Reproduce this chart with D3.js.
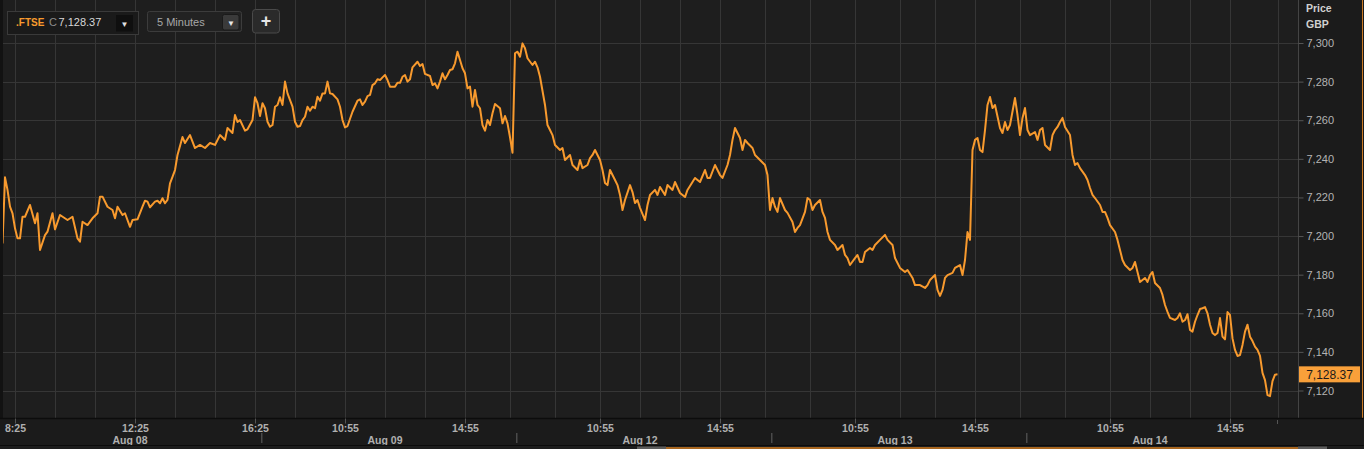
<!DOCTYPE html>
<html>
<head>
<meta charset="utf-8">
<script src="https://cdn.jsdelivr.net/npm/d3@7"></script>
<style>
html,body{margin:0;padding:0;background:#1b1b1b;overflow:hidden;}
svg{display:block;font-family:"Liberation Sans",Arial,sans-serif;}
</style>
</head>
<body>
<svg id="chart" width="1364" height="449"></svg>
<script>
// ---------------- DATA ----------------
const symbol = ".FTSE";
const lastPrice = 7128.37;
const interval = "5 Minutes";
const currency = "GBP";
const barsPerDay = 102; // 08:00 .. 16:25, 5-minute bars
const days = ["Aug 08", "Aug 09", "Aug 12", "Aug 13", "Aug 14"];

// session bar index (5-minute bars counted across trading days)
const barIndex = [
0,1,2,3,4,5,6,7,8,9,11,13,14,15,17,18,20,21,23,26,28,30,31,32,34,36,38,39,40,42,44,45,46,48,49,51,52,54,56,57,58,59,61,62,63,64,65,66,67,68,69,70,72,73,75,77,79,81,83,85,87,89,90,92,93,94,95,97,98,100,101,
102,103,104,105,106,107,108,109,110,111,112,113,114,116,117,118,119,120,121,122,123,124,125,126,127,128,129,130,131,132,134,135,136,137,138,140,142,143,144,145,146,147,148,149,150,151,152,153,154,155,157,158,159,160,161,162,163,164,166,167,168,169,171,172,173,174,175,176,177,178,179,180,181,182,183,184,185,186,187,188,189,190,191,192,193,194,195,196,197,199,200,201,202,203,
204,205,206,207,208,209,210,212,213,214,215,217,218,219,220,221,223,224,225,227,228,230,231,232,234,235,236,237,239,240,241,242,243,245,246,247,248,249,251,252,253,254,255,257,258,259,261,262,263,265,266,268,269,271,273,274,276,277,279,281,282,283,285,287,288,290,291,292,293,295,296,297,298,300,301,303,305,
306,307,308,309,310,311,313,314,316,317,318,319,321,322,323,324,325,327,328,329,330,331,333,334,336,337,338,339,341,342,343,344,345,347,348,349,351,353,354,356,357,359,361,362,364,365,367,369,370,371,373,374,375,376,377,378,380,381,383,384,385,386,387,388,389,390,391,392,393,394,395,396,397,399,400,401,402,403,405,406,407,
408,409,410,411,413,414,415,416,417,419,420,421,422,423,424,425,427,428,429,430,431,433,434,435,436,437,439,440,441,442,443,445,446,447,448,449,451,452,453,454,455,457,458,459,460,461,463,464,465,466,467,469,470,471,472,473,474,475,476,477,478,479,480,481,482,483,484,485,486,487,488,489,490,491,492,493,494,495,496,497,498,499,500,501,502,503,504,505,506,507,508,509,510
];
const price = [
7196.2,7230.4,7223.9,7215.2,7211.8,7204,7198.8,7198.8,7210,7210,7216.1,7206.6,7211.8,7192.8,7200.5,7202.3,7211.8,7203.5,7210.9,7208.3,7210,7198.8,7197.1,7207.4,7205.7,7209.2,7211.8,7220.4,7220.4,7215.2,7213.5,7209.2,7215.2,7210.9,7211.8,7204.8,7208.3,7208.7,7215.2,7218.3,7217.8,7214.9,7217.8,7218.3,7217,7219.6,7217,7218.7,7227.3,7230.7,7234.2,7242,7251.3,7248.2,7252.3,7245.6,7247.2,7245.6,7248.2,7247.2,7252.3,7249.8,7256,7253.4,7262.7,7259.1,7260.1,7254.6,7255.3,7260.1,7271.9,
7268.8,7262.2,7268.8,7266.2,7259.2,7256.6,7257.5,7267,7267.9,7271.9,7267.9,7280,7273.9,7267,7259.2,7256.6,7257,7260.1,7261.8,7267,7264.9,7267,7266.2,7272.2,7270.1,7273.9,7273.9,7280,7273.9,7273.6,7270.8,7267,7260.1,7256.3,7257,7264.4,7270.1,7270.8,7267.9,7269.6,7272.5,7273.1,7278.2,7279.1,7281.2,7280.8,7282.2,7283.4,7280.8,7277.4,7277.4,7279.4,7279.4,7282.5,7283.4,7280,7281.2,7287.4,7290.3,7288.1,7289.1,7284,7282.9,7278.2,7279.1,7276.5,7280,7284.3,7281.2,7283.4,7286,7286.4,7289.5,7295.5,7291.2,7286.9,7284.3,7276.5,7277.4,7267,7275.7,7267.9,7266.2,7257.5,7254.6,7260.1,7257.5,7263.6,7268.4,7266.2,7258.4,7262.2,7258.4,7251.2,
7243.2,7294.7,7295.5,7292.9,7299.8,7297.3,7292.1,7288.6,7290.3,7287.4,7282.5,7267.9,7257.5,7254.9,7252.3,7247.2,7244.6,7245.6,7239.4,7242,7236.8,7234.2,7239.4,7235.2,7236.8,7240.4,7242,7244.6,7239.4,7234.2,7227.5,7226.4,7234.2,7229,7226.4,7221.3,7213.5,7218.7,7226.4,7222.8,7217.1,7218.7,7214.6,7208.3,7216.1,7221.3,7223.9,7221.3,7225.4,7221.3,7226.4,7223.9,7228,7222.3,7220.2,7223.9,7228,7230.1,7228,7234.2,7230.1,7230.1,7236.8,7231.6,7230.1,7236.8,7242,7249.8,7256,7250.8,7244.6,7249.8,7248.2,7245.6,7242,7239.4,7236.8,
7231.6,7213.5,7219.7,7215.1,7212.5,7219.7,7213.5,7212,7207.3,7202.1,7204.2,7205.7,7212.5,7219.7,7218.7,7213.5,7216.1,7218.7,7212.5,7209.4,7202.1,7198,7195.4,7192.8,7195.4,7190.2,7188.6,7185,7188.6,7190.2,7186.6,7186.6,7191.7,7193.8,7192.8,7195.4,7198,7200.6,7198,7195.4,7188.6,7183.5,7181.4,7182.4,7178.3,7174.6,7174.6,7173.1,7174.6,7177.2,7179.8,7172.1,7169,7172.1,7178.3,7179.8,7180.9,7183.5,7185,7179.8,7187.6,7202.1,7198,7244.6,7249.8,7250.8,7244.6,7243.5,7254.9,7267.9,7272,7266.3,7267.9,7256,7253.4,7259.1,7254.9,7257.5,7271.5,7262.7,7252.3,
7261.2,7266.3,7254.9,7252.3,7253.9,7249.8,7254.9,7256,7247.2,7244.6,7252.3,7254.9,7256.5,7259.1,7261.2,7256.5,7252.3,7242,7236.8,7237.8,7235.2,7231.6,7229,7224.9,7221.3,7219.7,7216.1,7212.5,7212.5,7209.4,7205.7,7202.1,7198,7192.8,7187.6,7185,7182.4,7183.5,7186.6,7181.4,7176.2,7178.3,7176.2,7179.8,7181.4,7175.7,7173.1,7169.5,7164.3,7160.7,7157.6,7156.5,7157.6,7160,7155.6,7156.5,7159.5,7151.4,7150.5,7155.6,7159.1,7162.2,7162.6,7163.2,7160,7154.1,7149.8,7148.7,7149.8,7157.5,7147.9,7146.5,7160.6,7159.1,7147,7141,7137.9,7138.4,7143.6,7150.5,7154.1,7147.9,7145.6,7142.7,7141,7137.9,7129.1,7125.4,7117.6,7117.1,7124.9,7128.2,7128.37
];

const yTicks = [7120, 7140, 7160, 7180, 7200, 7220, 7240, 7260, 7280, 7300];
const timeTickBars = [5, 53, 101, 137, 185, 239, 287, 341, 389, 443, 491];
const timeTickLabels = ["8:25", "12:25", "16:25", "10:55", "14:55", "10:55", "14:55", "10:55", "14:55", "10:55", "14:55"];
const gridBars = [5,21,37,53,69,85,101,117,137,153,169,185,203,221,239,255,271,287,305,323,341,359,373,389,407,425,443,459,475,491,510];

// ---------------- LAYOUT ----------------
const W = 1364, H = 449;
const plotLeft = 3, plotRight = 1298, plotTop = 0, plotBottom = 418;
const orange = "#f89a2e";

const svg = d3.select("#chart");
const x = d3.scaleLinear().domain([-1, 518.2]).range([0, plotRight]);
const y = d3.scaleLinear().domain([7120, 7300]).range([390.5, 43]);

// backgrounds
svg.append("rect").attr("x", 0).attr("y", 0).attr("width", W).attr("height", H).attr("fill", "#1b1b1b");
svg.append("rect").attr("x", 0).attr("y", 0).attr("width", plotLeft).attr("height", 445).attr("fill", "#121212");
svg.append("rect").attr("x", plotLeft).attr("y", plotTop).attr("width", plotRight - plotLeft).attr("height", plotBottom - plotTop).attr("fill", "#1e1e1e");

// grid
const grid = svg.append("g");
grid.selectAll("line.h").data(yTicks).join("line")
  .attr("x1", plotLeft).attr("x2", plotRight)
  .attr("y1", d => Math.round(y(d)) + 0.5).attr("y2", d => Math.round(y(d)) + 0.5)
  .attr("stroke", "#363636").attr("stroke-width", 1);
grid.selectAll("line.v").data(gridBars).join("line")
  .attr("x1", d => Math.round(x(d)) + 0.5).attr("x2", d => Math.round(x(d)) + 0.5)
  .attr("y1", plotTop).attr("y2", plotBottom)
  .attr("stroke", "#363636").attr("stroke-width", 1);

// price line
svg.append("clipPath").attr("id", "clip").append("rect")
  .attr("x", plotLeft).attr("y", plotTop).attr("width", plotRight - plotLeft).attr("height", plotBottom - plotTop);
const series = barIndex.map((b, i) => ({ b, v: price[i] }));
svg.append("path").datum(series)
  .attr("clip-path", "url(#clip)")
  .attr("fill", "none").attr("stroke", orange).attr("stroke-width", 2)
  .attr("stroke-linejoin", "round")
  .attr("d", d3.line().x(d => x(d.b)).y(d => y(d.v)));

// right axis
const yAxis = d3.axisRight(y).tickValues(yTicks).tickFormat(d3.format(",")).tickSize(5).tickPadding(3);
const ya = svg.append("g").attr("transform", `translate(${plotRight + 0.5},0)`).call(yAxis);
ya.select(".domain").attr("stroke", "#444").attr("d", `M0,0V${plotBottom}`);
ya.selectAll(".tick line").attr("stroke", "#555");
ya.selectAll(".tick text").attr("fill", "#b4b4b4").attr("font-size", 11);

svg.append("text").attr("x", 1306).attr("y", 12).text("Price")
  .attr("fill", "#d0d0d0").attr("font-size", 10.5).attr("font-weight", "bold");
svg.append("text").attr("x", 1306).attr("y", 28).text(currency)
  .attr("fill", "#d0d0d0").attr("font-size", 10.5).attr("font-weight", "bold");

// last price flag
const yl = y(lastPrice);
svg.append("rect").attr("x", 1299).attr("y", yl - 8).attr("width", 61).attr("height", 16).attr("fill", "#f9a03a");
svg.append("text").attr("x", 1329.5).attr("y", yl + 4.2).attr("text-anchor", "middle")
  .attr("fill", "#1a1a1a").attr("font-size", 12).text(d3.format(",.2f")(lastPrice));

// right orange edge
svg.append("line").attr("x1", 1362.5).attr("x2", 1362.5).attr("y1", 0).attr("y2", 445).attr("stroke", "#c97a25").attr("stroke-width", 1);

// bottom axis
svg.append("rect").attr("x", 0).attr("y", plotBottom).attr("width", W).attr("height", 27).attr("fill", "#1b1b1b");
const xAxis = d3.axisBottom(x).tickValues(timeTickBars).tickFormat((d, i) => timeTickLabels[i]).tickSize(5).tickPadding(1);
const xa = svg.append("g").attr("transform", `translate(0,${plotBottom + 0.5})`).call(xAxis);
xa.select(".domain").attr("stroke", "#0c0c0c").attr("stroke-width", 1.5).attr("d", `M0,0H${W}`);
xa.selectAll(".tick line").attr("stroke", "#555");
xa.selectAll(".tick text").attr("fill", "#b0b0b0").attr("font-size", 10.5).attr("font-weight", "bold");
// marker at last bar
svg.append("line").attr("x1", x(barIndex[barIndex.length - 1])).attr("x2", x(barIndex[barIndex.length - 1]))
  .attr("y1", 420).attr("y2", 424).attr("stroke", "#555");

// day labels and separators
svg.selectAll("text.day").data(days).join("text")
  .attr("x", (d, i) => x(i * barsPerDay + 51)).attr("y", 443.5)
  .attr("text-anchor", "middle").attr("fill", "#b0b0b0").attr("font-size", 10.5).attr("font-weight", "bold")
  .text(d => d);
svg.selectAll("line.sep").data(days.slice(1)).join("line")
  .attr("x1", (d, i) => x((i + 1) * barsPerDay + 1.7)).attr("x2", (d, i) => x((i + 1) * barsPerDay + 1.7))
  .attr("y1", 433).attr("y2", 443).attr("stroke", "#4a4a4a").attr("stroke-width", 1.5);

// bottom strip with scrollbar
svg.append("line").attr("x1", 0).attr("x2", W).attr("y1", 445.5).attr("y2", 445.5).attr("stroke", "#0c0c0c");
svg.append("rect").attr("x", 0).attr("y", 446).attr("width", W).attr("height", 3).attr("fill", "#1d1d1d");
svg.append("rect").attr("x", 666).attr("y", 447).attr("width", 632).attr("height", 2).attr("fill", "#a8661f");
svg.append("rect").attr("x", 637).attr("y", 446.5).attr("width", 29).attr("height", 3).attr("fill", "#5c5c5c");
svg.append("rect").attr("x", 1298).attr("y", 446.5).attr("width", 29).attr("height", 3).attr("fill", "#5c5c5c");

// ---------------- HEADER CONTROLS ----------------
const hdr = svg.append("g");
// symbol box
hdr.append("rect").attr("x", 7.5).attr("y", 11.5).attr("width", 131).attr("height", 23).attr("fill", "#1a1a1a").attr("stroke", "#3a3a3a");
hdr.append("text").attr("x", 16).attr("y", 26).attr("font-size", 10).attr("font-weight", "bold").attr("fill", orange).text(symbol);
hdr.append("text").attr("x", 49).attr("y", 26).attr("font-size", 11).attr("fill", "#8c8c8c").text("C");
hdr.append("text").attr("x", 58.5).attr("y", 26).attr("font-size", 11).attr("fill", "#d8d8d8").text(d3.format(",.2f")(lastPrice));
hdr.append("rect").attr("x", 116).attr("y", 15).attr("width", 17).attr("height", 16.5).attr("fill", "#0f0f0f");
hdr.append("text").attr("x", 124.5).attr("y", 27).attr("text-anchor", "middle").attr("font-size", 8).attr("fill", "#e0e0e0").text("▼");
// interval box
hdr.append("rect").attr("x", 147.5).attr("y", 11.5).attr("width", 94).attr("height", 20).attr("rx", 2).attr("fill", "#222").attr("stroke", "#3c3c3c");
hdr.append("text").attr("x", 157).attr("y", 26).attr("font-size", 11).attr("fill", "#a8a8a8").text(interval);
hdr.append("rect").attr("x", 222.5).attr("y", 14.5).attr("width", 16.5).attr("height", 15.5).attr("rx", 2).attr("fill", "#3a3a3a").attr("stroke", "#1a1a1a");
hdr.append("text").attr("x", 231).attr("y", 26).attr("text-anchor", "middle").attr("font-size", 8).attr("fill", "#e8e8e8").text("▼");
// plus button
hdr.append("rect").attr("x", 252.5).attr("y", 9.5).attr("width", 27).attr("height", 23.5).attr("rx", 3).attr("fill", "#2a2a2a").attr("stroke", "#4a4a4a");
hdr.append("text").attr("x", 266).attr("y", 27).attr("text-anchor", "middle").attr("font-size", 18).attr("font-weight", "bold").attr("fill", "#e6e6e6").text("+");
</script>
</body>
</html>
